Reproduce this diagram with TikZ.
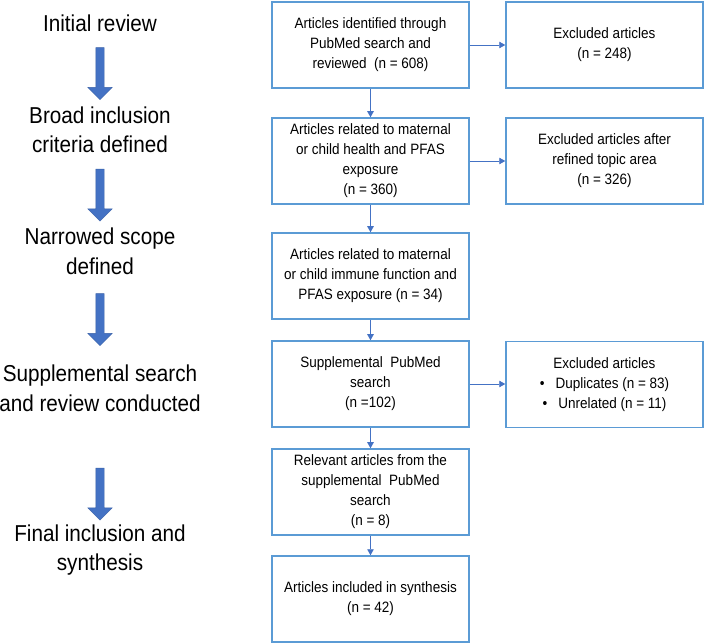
\documentclass[tikz,border=0pt]{standalone}
\usepackage{fontspec}
\setmainfont{Liberation Sans}[FakeStretch=0.9]
\usetikzlibrary{arrows.meta,shapes.arrows}
\definecolor{boxblue}{HTML}{5B9BD5}
\definecolor{lineblue}{HTML}{4472C4}
\tikzset{
  box/.style={draw=boxblue, line width=1.5pt, minimum width=197pt, minimum height=86pt, inner sep=0pt, align=center, font=\fontsize{15}{20}\selectfont},
  stage/.style={align=center, font=\fontsize{23}{29.5}\selectfont},
  flow/.style={draw=lineblue, line width=0.9pt, -{Triangle[length=6pt,width=6.5pt]}},
  bigarrow/.style={single arrow, fill=lineblue, draw=lineblue!85!black, line width=0.4pt, shape border rotate=270, minimum height=52pt, single arrow head extend=8pt, single arrow tip angle=90, inner sep=4pt}
}
\begin{document}
\begin{tikzpicture}[x=1pt,y=-1pt]
\useasboundingbox (0,0) rectangle (705,644);

\node [stage] (s1) at (100,23) {Initial review};
\node [stage] (s2) at (100,130) {Broad inclusion\\criteria defined};
\node [stage] (s3) at (100,251.5) {Narrowed scope\\defined};
\node [stage] (s4) at (100,388.5) {Supplemental search\\and review conducted};
\node [stage] (s5) at (100,550) {Final inclusion and\\synthesis};

\node [bigarrow] (a1) at (100,71.5) {};
\node [bigarrow] (a2) at (100,193) {};
\node [bigarrow] (a3) at (100,317.5) {};
\node [bigarrow] (a4) at (100,492) {};

\node [box] (b1) at (370.5,45) {Articles identified through\\PubMed search and\\reviewed\ \ (n = 608)};
\node [box] (b2) at (370.5,161) {Articles related to maternal\\or child health and PFAS\\exposure\\(n = 360)};
\node [box] (b3) at (370.5,276) {Articles related to maternal\\or child immune function and\\PFAS exposure (n = 34)};
\node [box] (b4) at (370.5,384) {Supplemental\ \ PubMed\\search\\(n =102)};
\node [box] (b5) at (370.5,492) {Relevant articles from the\\supplemental\ \ PubMed\\search\\(n = 8)};
\node [box] (b6) at (370.5,599) {Articles included in synthesis\\(n = 42)};

\node [box] (e1) at (604.5,45) {Excluded articles\\(n = 248)};
\node [box] (e2) at (604.5,161) {Excluded articles after\\refined topic area\\(n = 326)};
\node [box] (e3) at (604.5,384.5) {Excluded articles\\\textbullet\hspace{11pt}Duplicates (n = 83)\\\textbullet\hspace{11pt}Unrelated (n = 11)};

\draw [flow] (b1) -- (b2);
\draw [flow] (b2) -- (b3);
\draw [flow] (b3) -- (b4);
\draw [flow] (b4) -- (b5);
\draw [flow] (b5) -- (b6);
\draw [flow] (b1) -- (e1);
\draw [flow] (b2) -- (e2);
\draw [flow] (b4.east) -- (e3.west |- b4.east);
\end{tikzpicture}
\end{document}
